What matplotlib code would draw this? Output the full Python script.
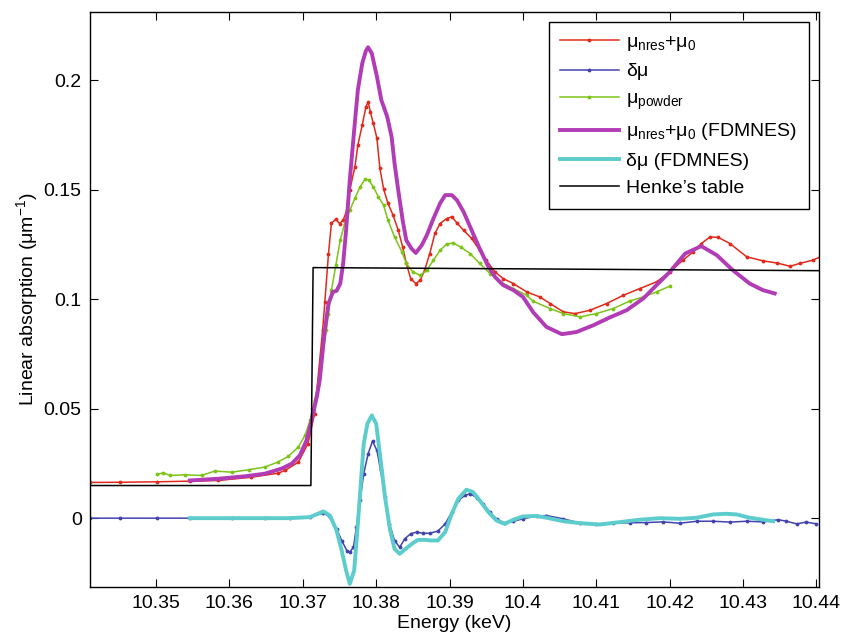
import matplotlib
matplotlib.use("Agg")
import matplotlib.pyplot as plt

plt.rcParams['font.family'] = ['Liberation Sans', 'DejaVu Sans']
plt.rcParams['mathtext.fontset'] = 'custom'
plt.rcParams['mathtext.rm'] = 'Liberation Sans'
plt.rcParams['mathtext.it'] = 'Liberation Sans:italic'

# mu_nres + mu_0 (measured)
e_nres = [10.3410, 10.3451, 10.3501, 10.3546, 10.3585, 10.3630, 10.3666, 10.3676, 10.3694, 10.3707,
          10.3716, 10.3727, 10.3730, 10.3735, 10.3739, 10.3745, 10.3750, 10.3755, 10.3760, 10.3764,
          10.3771, 10.3775, 10.3781, 10.3786, 10.3789, 10.3792, 10.3796, 10.3801, 10.3805, 10.3810,
          10.3816, 10.3823, 10.3830, 10.3836, 10.3841, 10.3847, 10.3854, 10.3860, 10.3866, 10.3873,
          10.3880, 10.3887, 10.3896, 10.3903, 10.3910, 10.3919, 10.3930, 10.3941, 10.3950, 10.3962,
          10.3973, 10.3987, 10.4005, 10.4023, 10.4037, 10.4055, 10.4071, 10.4091, 10.4114, 10.4137,
          10.4159, 10.4182, 10.4200, 10.4218, 10.4232, 10.4243, 10.4255, 10.4266, 10.4282, 10.4305,
          10.4327, 10.4346, 10.4364, 10.4377, 10.4395, 10.4405]
mu_nres = [0.0163, 0.0164, 0.0166, 0.0169, 0.0172, 0.0187, 0.0205, 0.0218, 0.0256, 0.0340,
           0.0477, 0.0858, 0.0987, 0.1208, 0.1348, 0.1364, 0.1345, 0.1361, 0.1406, 0.1498,
           0.1604, 0.1703, 0.1795, 0.1878, 0.1901, 0.1856, 0.1803, 0.1734, 0.1597, 0.1505,
           0.1437, 0.1383, 0.1315, 0.1239, 0.1163, 0.1094, 0.1071, 0.1086, 0.1132, 0.1208,
           0.1300, 0.1345, 0.1368, 0.1376, 0.1348, 0.1315, 0.1277, 0.1223, 0.1178, 0.1124,
           0.1094, 0.1071, 0.1033, 0.1010, 0.0980, 0.0942, 0.0934, 0.0949, 0.0980, 0.1018,
           0.1048, 0.1079, 0.1124, 0.1178, 0.1216, 0.1254, 0.1284, 0.1282, 0.1254, 0.1193,
           0.1175, 0.1165, 0.1150, 0.1163, 0.1178, 0.1193]

# delta mu (measured)
e_dmu = [10.3410, 10.3451, 10.3501, 10.3546, 10.3603, 10.3648, 10.3682, 10.3710, 10.3728, 10.3737,
         10.3746, 10.3753, 10.3760, 10.3764, 10.3769, 10.3773, 10.3778, 10.3783, 10.3789, 10.3795,
         10.3801, 10.3806, 10.3812, 10.3818, 10.3825, 10.3832, 10.3839, 10.3847, 10.3855, 10.3864,
         10.3873, 10.3884, 10.3894, 10.3903, 10.3912, 10.3921, 10.3928, 10.3937, 10.3946, 10.3955,
         10.3964, 10.3975, 10.3987, 10.4000, 10.4019, 10.4032, 10.4055, 10.4078, 10.4100, 10.4123,
         10.4146, 10.4168, 10.4191, 10.4214, 10.4237, 10.4259, 10.4282, 10.4305, 10.4327, 10.4348,
         10.4359, 10.4373, 10.4386, 10.4400]
dmu = [0.0, 0.0, 0.0, 0.0, 0.0, 0.0, 0.0, 0.0005, 0.0023, 0.0005,
       -0.0049, -0.0102, -0.0148, -0.0155, -0.0133, -0.0041, 0.0081, 0.0203, 0.0294, 0.0352,
       0.0309, 0.0218, 0.0096, -0.0026, -0.0102, -0.0133, -0.0094, -0.0071, -0.0064, -0.0069,
       -0.0069, -0.0059, -0.0026, 0.0027, 0.0081, 0.0104, 0.0112, 0.0093, 0.0066, 0.0027,
       -0.0003, -0.0023, -0.0014, -0.0003, 0.0010, 0.0012, -0.0003, -0.0023, -0.0026, -0.0023,
       -0.0021, -0.0020, -0.0017, -0.0023, -0.0014, -0.0014, -0.0018, -0.0014, -0.0017, -0.0007,
       -0.0014, -0.0026, -0.0018, -0.0026]

# mu powder
e_pow = [10.3501, 10.3510, 10.3519, 10.3539, 10.3562, 10.3580, 10.3603, 10.3626, 10.3648, 10.3666,
         10.3680, 10.3694, 10.3703, 10.3710, 10.3716, 10.3721, 10.3732, 10.3735, 10.3739, 10.3745,
         10.3751, 10.3757, 10.3764, 10.3771, 10.3778, 10.3785, 10.3790, 10.3796, 10.3803, 10.3810,
         10.3816, 10.3825, 10.3835, 10.3841, 10.3850, 10.3860, 10.3869, 10.3878, 10.3887, 10.3896,
         10.3905, 10.3916, 10.3928, 10.3941, 10.3955, 10.3969, 10.3987, 10.4005, 10.4014, 10.4037,
         10.4055, 10.4078, 10.4100, 10.4123, 10.4146, 10.4164, 10.4182, 10.4200]
mu_pow = [0.0200, 0.0207, 0.0195, 0.0198, 0.0195, 0.0215, 0.0210, 0.0221, 0.0233, 0.0256,
          0.0282, 0.0325, 0.0378, 0.0447, 0.0538, 0.0614, 0.0858, 0.0934, 0.1040, 0.1155,
          0.1269, 0.1345, 0.1406, 0.1460, 0.1513, 0.1548, 0.1543, 0.1513, 0.1467, 0.1429,
          0.1361, 0.1284, 0.1216, 0.1163, 0.1124, 0.1109, 0.1132, 0.1178, 0.1223, 0.1251,
          0.1257, 0.1236, 0.1208, 0.1163, 0.1117, 0.1079, 0.1048, 0.1018, 0.0990, 0.0957,
          0.0934, 0.0919, 0.0934, 0.0957, 0.0992, 0.1010, 0.1033, 0.1059]

# FDMNES mu_nres + mu_0
e_fd = [10.3546, 10.3585, 10.3621, 10.3648, 10.3671, 10.3685, 10.3696, 10.3705, 10.3712, 10.3719,
        10.3723, 10.3730, 10.3735, 10.3741, 10.3746, 10.3751, 10.3755, 10.3759, 10.3764, 10.3770,
        10.3775, 10.3781, 10.3786, 10.3789, 10.3794, 10.3801, 10.3807, 10.3815, 10.3821, 10.3825,
        10.3830, 10.3836, 10.3841, 10.3848, 10.3854, 10.3862, 10.3869, 10.3878, 10.3887, 10.3894,
        10.3903, 10.3910, 10.3919, 10.3930, 10.3941, 10.3953, 10.3962, 10.3973, 10.3987, 10.4000,
        10.4014, 10.4032, 10.4053, 10.4073, 10.4096, 10.4118, 10.4141, 10.4164, 10.4182, 10.4200,
        10.4221, 10.4243, 10.4264, 10.4286, 10.4309, 10.4327, 10.4343]
mu_fd = [0.0172, 0.0180, 0.0191, 0.0203, 0.0226, 0.0249, 0.0287, 0.0355, 0.0447, 0.0553,
         0.0629, 0.0858, 0.0980, 0.1033, 0.1038, 0.1071, 0.1163, 0.1315, 0.1543, 0.1772,
         0.1955, 0.2077, 0.2134, 0.2150, 0.2122, 0.2016, 0.1909, 0.1833, 0.1741, 0.1620,
         0.1498, 0.1361, 0.1269, 0.1231, 0.1211, 0.1246, 0.1292, 0.1368, 0.1437, 0.1475,
         0.1475, 0.1452, 0.1399, 0.1315, 0.1231, 0.1147, 0.1101, 0.1064, 0.1041, 0.1010,
         0.0940, 0.0873, 0.0840, 0.0850, 0.0881, 0.0916, 0.0949, 0.1003, 0.1064, 0.1124,
         0.1208, 0.1242, 0.1201, 0.1132, 0.1071, 0.1041, 0.1026]

# FDMNES delta mu
e_dfd = [10.3546, 10.3603, 10.3648, 10.3682, 10.3710, 10.3728, 10.3737, 10.3746, 10.3753, 10.3759,
         10.3764, 10.3770, 10.3774, 10.3779, 10.3783, 10.3788, 10.3794, 10.3800, 10.3805, 10.3812,
         10.3819, 10.3825, 10.3832, 10.3840, 10.3850, 10.3857, 10.3866, 10.3875, 10.3884, 10.3894,
         10.3903, 10.3912, 10.3923, 10.3932, 10.3941, 10.3953, 10.3964, 10.3975, 10.3987, 10.4000,
         10.4019, 10.4032, 10.4055, 10.4078, 10.4105, 10.4132, 10.4159, 10.4187, 10.4214, 10.4237,
         10.4259, 10.4277, 10.4291, 10.4309, 10.4341]
dmu_fd = [0.0, 0.0, 0.0, 0.0, 0.0005, 0.0031, 0.0012, -0.0056, -0.0148, -0.0239,
          -0.0300, -0.0239, -0.0071, 0.0157, 0.0340, 0.0431, 0.0469, 0.0431, 0.0294, 0.0096,
          -0.0056, -0.0140, -0.0163, -0.0140, -0.0114, -0.0099, -0.0099, -0.0102, -0.0102, -0.0064,
          0.0020, 0.0089, 0.0130, 0.0119, 0.0081, 0.0027, -0.0011, -0.0026, -0.0007, 0.0008,
          0.0010, 0.0002, -0.0014, -0.0023, -0.0029, -0.0018, -0.0007, 0.0, -0.0003, 0.0002,
          0.0017, 0.0020, 0.0017, 0.0002, -0.0014]

# Henke's table
e_henke = [10.3410, 10.3711, 10.3714, 10.4405]
mu_henke = [0.0149, 0.0149, 0.1144, 0.1130]

fig = plt.figure(figsize=(8.41, 6.39), dpi=100)
ax = fig.add_axes([90/841, 1 - 586.5/639, (818.7 - 90)/841, (586.5 - 12)/639])

ax.plot(e_nres, mu_nres, color='#e02a1c', lw=1.1, marker='.', ms=3.5,
        label='μ$_{\\mathrm{nres}}$+μ$_{\\mathrm{0}}$')
ax.plot(e_dmu, dmu, color='#4343b0', lw=1.1, marker='.', ms=3.5, label='δμ')
ax.plot(e_pow, mu_pow, color='#7cc417', lw=1.1, marker='.', ms=3.5,
        label='μ$_{\\mathrm{powder}}$')
ax.plot(e_fd, mu_fd, color='#b23cb5', lw=2.8,
        label='μ$_{\\mathrm{nres}}$+μ$_{\\mathrm{0}}$ (FDMNES)')
ax.plot(e_dfd, dmu_fd, color='#5ccccc', lw=2.8, label='δμ (FDMNES)')
ax.plot(e_henke, mu_henke, color='black', lw=1.1, label='Henke’s table')

ax.set_xlim(10.341, 10.4403)
ax.set_ylim(-0.0312, 0.2311)
ax.set_xticks([10.35, 10.36, 10.37, 10.38, 10.39, 10.40, 10.41, 10.42, 10.43, 10.44])
ax.set_xticklabels(['10.35', '10.36', '10.37', '10.38', '10.39', '10.4', '10.41', '10.42', '10.43', '10.44'])
ax.set_yticks([0, 0.05, 0.1, 0.15, 0.2])
ax.set_yticklabels(['0', '0.05', '0.1', '0.15', '0.2'])
ax.tick_params(direction='in', top=True, right=True, length=5.5, width=0.8, labelsize=14)
ax.tick_params(axis='x', pad=6)
ax.tick_params(axis='y', pad=6)
for s in ax.spines.values():
    s.set_linewidth(1.0)

ax.set_xlabel('Energy (keV)', fontsize=14, labelpad=2)
ax.set_ylabel('Linear absorption (μm$^{-1}$)', fontsize=14, labelpad=3)

leg = ax.legend(loc='upper right', fontsize=14, handlelength=3.0, handletextpad=0.4,
                fancybox=False, edgecolor='black', framealpha=1, borderaxespad=0.5,
                borderpad=0.6, labelspacing=0.5, numpoints=1)
leg.get_frame().set_linewidth(1.0)

fig.savefig('out.png', dpi=100)
